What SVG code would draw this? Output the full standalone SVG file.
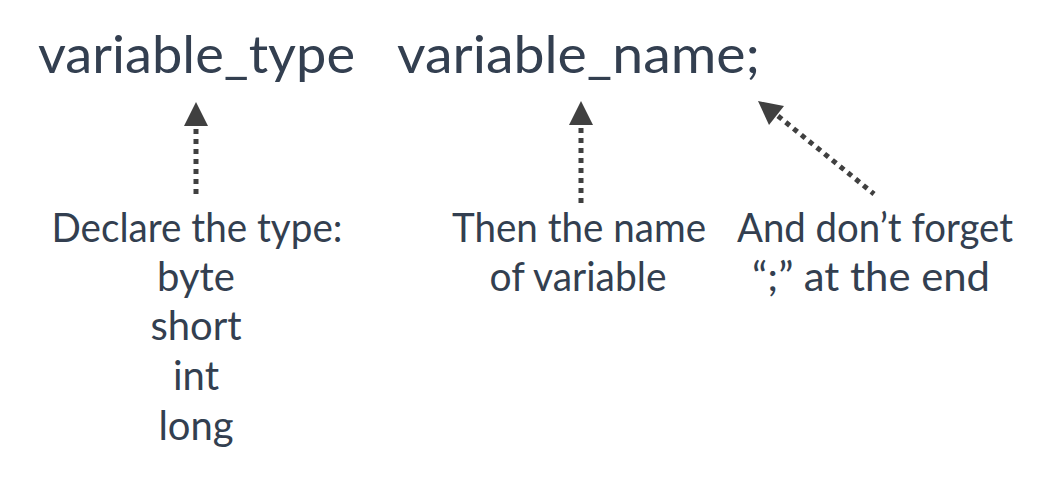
<svg xmlns="http://www.w3.org/2000/svg" width="1049" height="478" viewBox="0 0 1049 478">
  <style>
    .code { font-family: Lato, "Open Sans", "Liberation Sans", sans-serif; font-size: 52px; fill: #333F50; }
    .lbl { font-family: Lato, "Open Sans", "Liberation Sans", sans-serif; font-size: 40px; fill: #333F50; text-anchor: middle; }
    .dots { stroke: #404040; stroke-width: 5; stroke-dasharray: 5 5; fill: none; }
    .head { fill: #404040; }
  </style>
  <rect width="1049" height="478" fill="#ffffff"/>
  <g id="code">
    <text class="code" x="38" y="73" textLength="317" lengthAdjust="spacingAndGlyphs">variable_type</text>
    <text class="code" x="397" y="73" textLength="363" lengthAdjust="spacingAndGlyphs">variable_name;</text>
  </g>
  <g id="label-type">
    <text class="lbl" x="197" y="242" textLength="291" lengthAdjust="spacingAndGlyphs">Declare the type:</text>
    <text class="lbl" x="196" y="291">byte</text>
    <text class="lbl" x="196" y="340">short</text>
    <text class="lbl" x="196" y="390">int</text>
    <text class="lbl" x="196" y="440">long</text>
  </g>
  <g id="label-name">
    <text class="lbl" x="579" y="242" textLength="254" lengthAdjust="spacingAndGlyphs">Then the name</text>
    <text class="lbl" x="578" y="291" textLength="177" lengthAdjust="spacingAndGlyphs">of variable</text>
  </g>
  <g id="label-semicolon">
    <text class="lbl" x="875" y="242" textLength="276" lengthAdjust="spacingAndGlyphs">And don’t forget</text>
    <text class="lbl" x="871" y="291" textLength="238" lengthAdjust="spacingAndGlyphs">“;” at the end</text>
  </g>
  <g id="connectors">
    <line class="dots" x1="196" y1="129" x2="196" y2="196"/>
    <polygon class="head" points="196,102 208,126 184,126"/>
    <line class="dots" x1="581" y1="128" x2="581" y2="204"/>
    <polygon class="head" points="581,101 593,125 569,125"/>
    <line class="dots" x1="778" y1="116" x2="874" y2="194"/>
    <polygon class="head" points="758,101 784,106 769,125"/>
  </g>
</svg>
